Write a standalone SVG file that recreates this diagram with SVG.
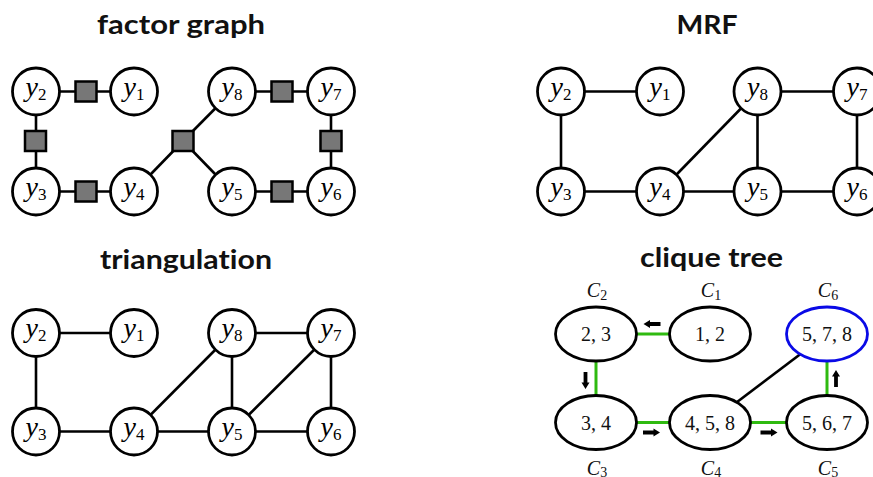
<svg xmlns="http://www.w3.org/2000/svg" width="873" height="477" viewBox="0 0 873 477">
  <style>
    .title { font-family: Lato, "Open Sans", sans-serif; font-weight: bold; font-size: 27px; fill: #111; text-anchor: middle; font-variant-ligatures: none; }
    .node { fill: #fff; stroke: #000; stroke-width: 2.8; }
    .factor { fill: #777; stroke: #000; stroke-width: 2.5; }
    .edge { stroke: #000; stroke-width: 2.6; fill: none; }
    .green { stroke: #2fba10; stroke-width: 3; fill: none; }
    .lbl { font-family: "Liberation Serif", "DejaVu Serif", serif; font-size: 28px; fill: #000; text-anchor: middle; }
    .lbl .v { font-style: italic; }
    .lbl .s { font-size: 17px; }
    .clq { fill: #fff; stroke: #000; stroke-width: 2.8; }
    .root { stroke: #0a0ae6; }
    .ctext { font-family: "Liberation Serif", "DejaVu Serif", serif; font-size: 20px; fill: #111; text-anchor: middle; }
    .cname { font-family: "Liberation Serif", "DejaVu Serif", serif; font-size: 20px; font-style: italic; fill: #111; text-anchor: middle; }
    .cname .s { font-size: 14px; font-style: normal; }
    .arrow { fill: #000; }
  </style>
  <defs>
    <!-- short thick message arrow, pointing right, centred on the origin -->
    <path id="msg" class="arrow" d="M-8.5,-1.9 L2,-1.9 L2,-4 L8.5,0 L2,4 L2,1.9 L-8.5,1.9 Z"/>
    <rect id="fac" class="factor" x="-10.5" y="-10" width="21" height="20"/>
  </defs>

  <rect width="873" height="477" fill="#fff"/>

  <!-- panel titles -->
  <text class="title" x="181" y="34" textLength="168" lengthAdjust="spacingAndGlyphs">factor graph</text>
  <text class="title" x="707" y="34" textLength="61" lengthAdjust="spacingAndGlyphs">MRF</text>
  <text class="title" x="186" y="269" textLength="172" lengthAdjust="spacingAndGlyphs">triangulation</text>
  <text class="title" x="711.5" y="267" textLength="143" lengthAdjust="spacingAndGlyphs">clique tree</text>

  <!-- ===== factor graph ===== -->
  <g id="fg-edges">
    <line class="edge" x1="36" y1="91.5" x2="134" y2="91.5"/>
    <line class="edge" x1="36" y1="91.5" x2="36" y2="191.5"/>
    <line class="edge" x1="36" y1="191.5" x2="134" y2="191.5"/>
    <line class="edge" x1="134" y1="191.5" x2="183" y2="141"/>
    <line class="edge" x1="183" y1="141" x2="232" y2="91.5"/>
    <line class="edge" x1="183" y1="141" x2="232" y2="191.5"/>
    <line class="edge" x1="232" y1="91.5" x2="331" y2="91.5"/>
    <line class="edge" x1="331" y1="91.5" x2="331" y2="191.5"/>
    <line class="edge" x1="232" y1="191.5" x2="331" y2="191.5"/>
  </g>
  <g id="fg-factors">
    <use href="#fac" x="86" y="91.5"/>
    <use href="#fac" x="35.5" y="141"/>
    <use href="#fac" x="86" y="191.5"/>
    <use href="#fac" x="183" y="141"/>
    <use href="#fac" x="282" y="91.5"/>
    <use href="#fac" x="331" y="141"/>
    <use href="#fac" x="282" y="191.5"/>
  </g>
  <g id="fg-y2"><circle class="node" cx="36" cy="91.5" r="23.5"/><text class="lbl" x="36" y="95.5"><tspan class="v">y</tspan><tspan class="s" dy="4">2</tspan></text></g>
  <g id="fg-y1"><circle class="node" cx="134" cy="91.5" r="23.5"/><text class="lbl" x="134" y="95.5"><tspan class="v">y</tspan><tspan class="s" dy="4">1</tspan></text></g>
  <g id="fg-y8"><circle class="node" cx="232" cy="91.5" r="23.5"/><text class="lbl" x="232" y="95.5"><tspan class="v">y</tspan><tspan class="s" dy="4">8</tspan></text></g>
  <g id="fg-y7"><circle class="node" cx="331" cy="91.5" r="23.5"/><text class="lbl" x="331" y="95.5"><tspan class="v">y</tspan><tspan class="s" dy="4">7</tspan></text></g>
  <g id="fg-y3"><circle class="node" cx="36" cy="191.5" r="23.5"/><text class="lbl" x="36" y="195.5"><tspan class="v">y</tspan><tspan class="s" dy="4">3</tspan></text></g>
  <g id="fg-y4"><circle class="node" cx="134" cy="191.5" r="23.5"/><text class="lbl" x="134" y="195.5"><tspan class="v">y</tspan><tspan class="s" dy="4">4</tspan></text></g>
  <g id="fg-y5"><circle class="node" cx="232" cy="191.5" r="23.5"/><text class="lbl" x="232" y="195.5"><tspan class="v">y</tspan><tspan class="s" dy="4">5</tspan></text></g>
  <g id="fg-y6"><circle class="node" cx="331" cy="191.5" r="23.5"/><text class="lbl" x="331" y="195.5"><tspan class="v">y</tspan><tspan class="s" dy="4">6</tspan></text></g>

  <!-- ===== MRF ===== -->
  <g id="mrf-edges">
    <line class="edge" x1="561" y1="91.5" x2="660" y2="91.5"/>
    <line class="edge" x1="561" y1="91.5" x2="561" y2="191.5"/>
    <line class="edge" x1="561" y1="191.5" x2="660" y2="191.5"/>
    <line class="edge" x1="660" y1="191.5" x2="757.5" y2="191.5"/>
    <line class="edge" x1="757.5" y1="191.5" x2="857" y2="191.5"/>
    <line class="edge" x1="660" y1="191.5" x2="757.5" y2="91.5"/>
    <line class="edge" x1="757.5" y1="91.5" x2="757.5" y2="191.5"/>
    <line class="edge" x1="757.5" y1="91.5" x2="857" y2="91.5"/>
    <line class="edge" x1="857" y1="91.5" x2="857" y2="191.5"/>
  </g>
  <g id="mrf-y2"><circle class="node" cx="561" cy="91.5" r="23.5"/><text class="lbl" x="561" y="95.5"><tspan class="v">y</tspan><tspan class="s" dy="4">2</tspan></text></g>
  <g id="mrf-y1"><circle class="node" cx="660" cy="91.5" r="23.5"/><text class="lbl" x="660" y="95.5"><tspan class="v">y</tspan><tspan class="s" dy="4">1</tspan></text></g>
  <g id="mrf-y8"><circle class="node" cx="757.5" cy="91.5" r="23.5"/><text class="lbl" x="757.5" y="95.5"><tspan class="v">y</tspan><tspan class="s" dy="4">8</tspan></text></g>
  <g id="mrf-y7"><circle class="node" cx="857" cy="91.5" r="23.5"/><text class="lbl" x="857" y="95.5"><tspan class="v">y</tspan><tspan class="s" dy="4">7</tspan></text></g>
  <g id="mrf-y3"><circle class="node" cx="561" cy="191.5" r="23.5"/><text class="lbl" x="561" y="195.5"><tspan class="v">y</tspan><tspan class="s" dy="4">3</tspan></text></g>
  <g id="mrf-y4"><circle class="node" cx="660" cy="191.5" r="23.5"/><text class="lbl" x="660" y="195.5"><tspan class="v">y</tspan><tspan class="s" dy="4">4</tspan></text></g>
  <g id="mrf-y5"><circle class="node" cx="757.5" cy="191.5" r="23.5"/><text class="lbl" x="757.5" y="195.5"><tspan class="v">y</tspan><tspan class="s" dy="4">5</tspan></text></g>
  <g id="mrf-y6"><circle class="node" cx="857" cy="191.5" r="23.5"/><text class="lbl" x="857" y="195.5"><tspan class="v">y</tspan><tspan class="s" dy="4">6</tspan></text></g>

  <!-- ===== triangulation ===== -->
  <g id="tri-edges">
    <line class="edge" x1="36" y1="333" x2="134" y2="333"/>
    <line class="edge" x1="36" y1="333" x2="36" y2="431.5"/>
    <line class="edge" x1="36" y1="431.5" x2="134" y2="431.5"/>
    <line class="edge" x1="134" y1="431.5" x2="232" y2="431.5"/>
    <line class="edge" x1="232" y1="431.5" x2="331" y2="431.5"/>
    <line class="edge" x1="134" y1="431.5" x2="232" y2="333"/>
    <line class="edge" x1="232" y1="333" x2="232" y2="431.5"/>
    <line class="edge" x1="232" y1="333" x2="331" y2="333"/>
    <line class="edge" x1="331" y1="333" x2="232" y2="431.5"/>
    <line class="edge" x1="331" y1="333" x2="331" y2="431.5"/>
  </g>
  <g id="tri-y2"><circle class="node" cx="36" cy="333" r="23.5"/><text class="lbl" x="36" y="337"><tspan class="v">y</tspan><tspan class="s" dy="4">2</tspan></text></g>
  <g id="tri-y1"><circle class="node" cx="134" cy="333" r="23.5"/><text class="lbl" x="134" y="337"><tspan class="v">y</tspan><tspan class="s" dy="4">1</tspan></text></g>
  <g id="tri-y8"><circle class="node" cx="232" cy="333" r="23.5"/><text class="lbl" x="232" y="337"><tspan class="v">y</tspan><tspan class="s" dy="4">8</tspan></text></g>
  <g id="tri-y7"><circle class="node" cx="331" cy="333" r="23.5"/><text class="lbl" x="331" y="337"><tspan class="v">y</tspan><tspan class="s" dy="4">7</tspan></text></g>
  <g id="tri-y3"><circle class="node" cx="36" cy="431.5" r="23.5"/><text class="lbl" x="36" y="435.5"><tspan class="v">y</tspan><tspan class="s" dy="4">3</tspan></text></g>
  <g id="tri-y4"><circle class="node" cx="134" cy="431.5" r="23.5"/><text class="lbl" x="134" y="435.5"><tspan class="v">y</tspan><tspan class="s" dy="4">4</tspan></text></g>
  <g id="tri-y5"><circle class="node" cx="232" cy="431.5" r="23.5"/><text class="lbl" x="232" y="435.5"><tspan class="v">y</tspan><tspan class="s" dy="4">5</tspan></text></g>
  <g id="tri-y6"><circle class="node" cx="331" cy="431.5" r="23.5"/><text class="lbl" x="331" y="435.5"><tspan class="v">y</tspan><tspan class="s" dy="4">6</tspan></text></g>

  <!-- ===== clique tree ===== -->
  <g id="ct-edges">
    <line class="green" x1="596" y1="334" x2="710" y2="334"/>
    <line class="green" x1="596" y1="334" x2="596" y2="422.5"/>
    <line class="green" x1="596" y1="422.5" x2="710" y2="422.5"/>
    <line class="green" x1="710" y1="422.5" x2="827" y2="422.5"/>
    <line class="green" x1="827" y1="422.5" x2="827" y2="334"/>
    <line class="edge" x1="710" y1="422.5" x2="827" y2="334"/>
  </g>
  <g id="ct-messages">
    <use href="#msg" transform="translate(652,324) rotate(180)"/>
    <use href="#msg" transform="translate(585.5,380.5) rotate(90)"/>
    <use href="#msg" transform="translate(651.5,432.5)"/>
    <use href="#msg" transform="translate(769,432.5)"/>
    <use href="#msg" transform="translate(836,378.5) rotate(-90)"/>
  </g>
  <g id="ct-C2">
    <ellipse class="clq" cx="596" cy="334" rx="40.5" ry="27"/>
    <text class="ctext" x="596" y="341">2, 3</text>
    <text class="cname" x="597" y="297">C<tspan class="s" dy="3">2</tspan></text>
  </g>
  <g id="ct-C1">
    <ellipse class="clq" cx="710" cy="334" rx="40.5" ry="27"/>
    <text class="ctext" x="710" y="341">1, 2</text>
    <text class="cname" x="711" y="297">C<tspan class="s" dy="3">1</tspan></text>
  </g>
  <g id="ct-C6">
    <ellipse class="clq root" cx="827" cy="334" rx="40.5" ry="27"/>
    <text class="ctext" x="827" y="341">5, 7, 8</text>
    <text class="cname" x="828" y="297">C<tspan class="s" dy="3">6</tspan></text>
  </g>
  <g id="ct-C3">
    <ellipse class="clq" cx="596" cy="422.5" rx="40.5" ry="27"/>
    <text class="ctext" x="596" y="429.5">3, 4</text>
    <text class="cname" x="597" y="475">C<tspan class="s" dy="2">3</tspan></text>
  </g>
  <g id="ct-C4">
    <ellipse class="clq" cx="710" cy="422.5" rx="40.5" ry="27"/>
    <text class="ctext" x="710" y="429.5">4, 5, 8</text>
    <text class="cname" x="711" y="475">C<tspan class="s" dy="2">4</tspan></text>
  </g>
  <g id="ct-C5">
    <ellipse class="clq" cx="827" cy="422.5" rx="40.5" ry="27"/>
    <text class="ctext" x="827" y="429.5">5, 6, 7</text>
    <text class="cname" x="828" y="475">C<tspan class="s" dy="2">5</tspan></text>
  </g>
</svg>
